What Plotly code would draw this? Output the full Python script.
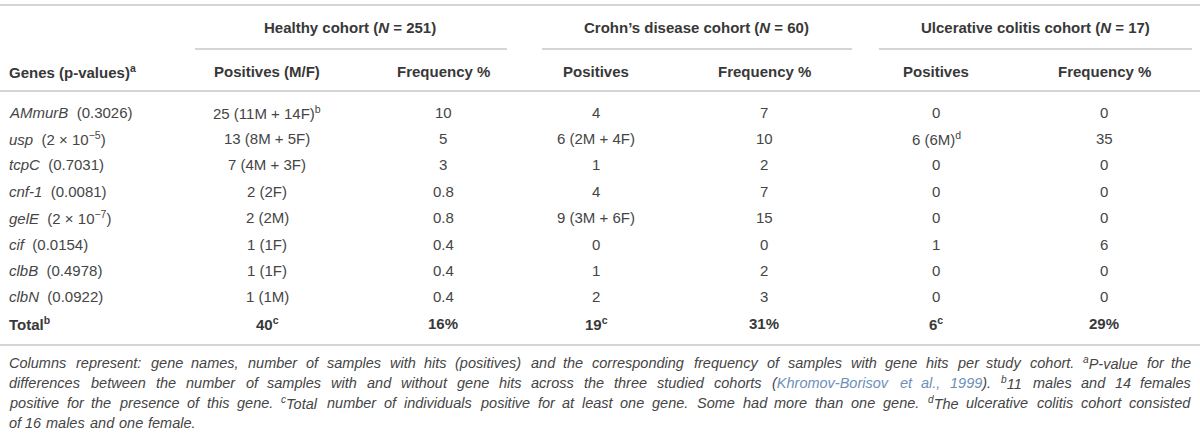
import re
import plotly.graph_objects as go

# ---- data ----
genes = ["AMmurB", "usp", "tcpC", "cnf-1", "gelE", "cif", "clbB", "clbN"]
pvalues = ["0.3026", "2 × 10<sup>−5</sup>", "0.7031", "0.0081", "2 × 10<sup>−7</sup>",
           "0.0154", "0.4978", "0.0922"]
healthy_pos = ["25 (11M + 14F)<sup>b</sup>", "13 (8M + 5F)", "7 (4M + 3F)", "2 (2F)",
               "2 (2M)", "1 (1F)", "1 (1F)", "1 (1M)"]
healthy_freq = ["10", "5", "3", "0.8", "0.8", "0.4", "0.4", "0.4"]
crohn_pos = ["4", "6 (2M + 4F)", "1", "4", "9 (3M + 6F)", "0", "1", "2"]
crohn_freq = ["7", "10", "2", "7", "15", "0", "2", "3"]
uc_pos = ["0", "6 (6M)<sup>d</sup>", "0", "0", "0", "1", "0", "0"]
uc_freq = ["0", "35", "0", "0", "0", "6", "0", "0"]
total_row = ["Total<sup>b</sup>", "40<sup>c</sup>", "16%",
             "19<sup>c</sup>", "31%", "6<sup>c</sup>", "29%"]
group_headers = ["Healthy cohort (<i>N</i> = 251)", "Crohn’s disease cohort (<i>N</i> = 60)",
                 "Ulcerative colitis cohort (<i>N</i> = 17)"]
col_headers = ["Genes (p-values)<sup>a</sup>", "Positives (M/F)", "Frequency %", "Positives",
               "Frequency %", "Positives", "Frequency %"]
# caption lines; [..] marks citation-coloured text
caption_lines = [
    "Columns represent: gene names, number of samples with hits (positives) and the corresponding frequency of samples with gene hits per study cohort. <sup>a</sup>P-value for the",
    "differences between the number of samples with and without gene hits across the three studied cohorts ([Khromov-Borisov] [et] [al.,] [1999]). <sup>b</sup>11 males and 14 females",
    "positive for the presence of this gene. <sup>c</sup>Total number of individuals positive for at least one gene. Some had more than one gene. <sup>d</sup>The ulcerative colitis cohort consisted",
    "of 16 males and one female.",
]

# ---- layout constants ----
W, H = 1200, 437
col_x = [8, 267, 443, 596, 764, 936, 1104]
grp_x = [350, 696, 1035]
grp_span = [(195, 507), (542, 852), (879, 1192)]
y_top_line = 5
y_grp = 27
y_grp_line = 49
y_colhdr = 71
y_hdr_line = 91
y_row0 = 112
row_step = 26.4
y_bottom_line = 345
y_cap0 = 363
cap_step = 20
cap_left, cap_right = 8, 1192
CAP_SIZE = 14.5

FONT = "Liberation Sans, Arial, sans-serif"
TXT = "#383838"
BODY = "#454545"
CITE = "#6d8fb8"
LINE = "#d5d5d5"

# Arial / Liberation Sans advance widths (per 1000 em)
W_UP = dict(zip("ABCDEFGHIJKLMNOPQRSTUVWXYZ",
                [667, 667, 722, 722, 667, 611, 778, 722, 278, 500, 667, 556, 833, 722, 778, 667,
                 778, 722, 667, 611, 722, 667, 944, 667, 667, 611]))
W_LO = dict(zip("abcdefghijklmnopqrstuvwxyz",
                [556, 556, 500, 556, 556, 278, 556, 556, 222, 222, 500, 222, 833, 556, 556, 556,
                 556, 333, 500, 278, 556, 500, 722, 500, 500, 500]))
W_OT = {" ": 278, "(": 333, ")": 333, ",": 278, "-": 333, ".": 278, ":": 278, ";": 278,
        "%": 889, "+": 584, "=": 584}
for d in "0123456789":
    W_OT[d] = 556


def plain_w(s, size):
    tot = 0
    for ch in s:
        tot += W_UP.get(ch) or W_LO.get(ch) or W_OT.get(ch, 556)
    return tot * size / 1000.0


def html_w(s, size):
    """width of a word that may contain <sup>..</sup> and [..] markers"""
    s = s.replace("[", "").replace("]", "")
    tot = 0.0
    for part in re.split(r"(<sup>.*?</sup>)", s):
        if part.startswith("<sup>"):
            tot += 0.7 * plain_w(part[5:-6], size)
        else:
            tot += plain_w(part, size)
    return tot


def to_html(s):
    return s.replace("[", "<span style='color:%s'>" % CITE).replace("]", "</span>")


fig = go.Figure()
ann = []


def add_text(x, y, text, anchor="center", size=15, italic=False, color=BODY):
    ann.append(dict(x=x, y=y, xref="x", yref="y", text=text, showarrow=False,
                    xanchor=anchor, yanchor="middle", borderpad=0,
                    font=dict(family=FONT, size=size, color=color,
                              style="italic" if italic else "normal")))


# group headers
for gx, gt in zip(grp_x, group_headers):
    add_text(gx, y_grp, "<b>" + gt + "</b>", color=TXT)

# column headers
for i, (cx, ct) in enumerate(zip(col_x, col_headers)):
    add_text(cx, y_colhdr, "<b>" + ct + "</b>", anchor="left" if i == 0 else "center", color=TXT)

# rows
cols = [healthy_pos, healthy_freq, crohn_pos, crohn_freq, uc_pos, uc_freq]
for r, g in enumerate(genes):
    y = y_row0 + r * row_step
    add_text(col_x[0], y, "<i>" + g + "</i>\u00a0\u00a0(" + pvalues[r] + ")", anchor="left")
    for c, vals in enumerate(cols):
        add_text(col_x[c + 1], y, vals[r])

# total row
y_tot = y_row0 + len(genes) * row_step
for c, t in enumerate(total_row):
    add_text(col_x[c], y_tot, "<b>" + t + "</b>", anchor="left" if c == 0 else "center", color=TXT)

# caption, justified word by word (last word of each full line anchored at the right edge)
SCALE = 1.03
for li, line in enumerate(caption_lines):
    y = y_cap0 + li * cap_step
    items = [(to_html(w), html_w(w, CAP_SIZE) * SCALE) for w in line.split(" ")]
    n = len(items)
    if li == len(caption_lines) - 1:
        x = cap_left
        for html, width in items:
            add_text(x, y, html, anchor="left", size=CAP_SIZE, italic=True)
            x += width + plain_w(" ", CAP_SIZE)
        continue
    gap = (cap_right - cap_left - sum(it[1] for it in items)) / (n - 1)
    x = cap_left
    for k, (html, width) in enumerate(items):
        if k == n - 1:
            add_text(cap_right, y, html, anchor="right", size=CAP_SIZE, italic=True)
        else:
            add_text(x, y, html, anchor="left", size=CAP_SIZE, italic=True)
        x += width + gap

shapes = []


def hline(x0, x1, y):
    shapes.append(dict(type="line", xref="x", yref="y", x0=x0, x1=x1, y0=y, y1=y,
                       line=dict(color=LINE, width=2)))


hline(0, W, y_top_line)
for a, b in grp_span:
    hline(a, b, y_grp_line)
hline(0, W, y_hdr_line)
hline(0, W, y_bottom_line)

fig.update_layout(
    width=W, height=H,
    margin=dict(l=0, r=0, t=0, b=0),
    paper_bgcolor="white", plot_bgcolor="white",
    xaxis=dict(range=[0, W], visible=False, fixedrange=True),
    yaxis=dict(range=[H, 0], visible=False, fixedrange=True),
    annotations=ann, shapes=shapes, showlegend=False,
)

fig.write_html(
    "out.html",
    config={"displayModeBar": False, "staticPlot": True},
    post_script="document.body.style.margin='0';document.body.style.overflow='hidden';",
)
